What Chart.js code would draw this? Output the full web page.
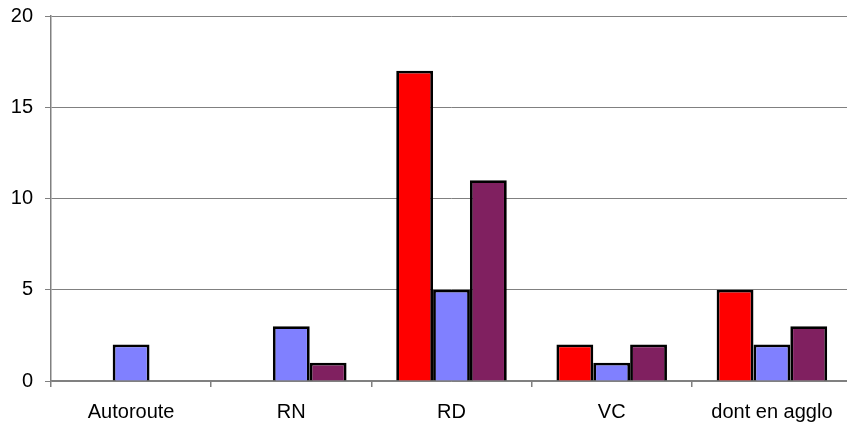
<!DOCTYPE html>
<html lang="fr">
<head>
  <meta charset="UTF-8" />
  <title>Graphique</title>
  <script src="https://cdn.jsdelivr.net/npm/chart.js"></script>
  <style>
    html, body {
      margin: 0;
      padding: 0;
      background: #fff;
      overflow: hidden;
    }
    #wrap {
      width: 852px;
      height: 428px;
    }
  </style>
</head>
<body>
  <div id="wrap"><canvas id="graphique"></canvas></div>

  <script>
    // donnees
    const categories = ["Autoroute", "RN", "RD", "VC", "dont en agglo"];
    const serieRouge = [0, 0, 17, 2, 5];
    const serieBleue = [2, 3, 5, 1, 2];
    const serieViolette = [0, 1, 11, 2, 3];
    const ticksY = [0, 5, 10, 15, 20];

    const police = { family: "'Liberation Sans', Arial, sans-serif", size: 20 };

    function serie(data, couleur) {
      return {
        data: data,
        backgroundColor: couleur,
        borderColor: '#000',
        borderWidth: 2.8,
        borderSkipped: 'bottom',
        categoryPercentage: 0.69,
        barPercentage: 1
      };
    }

    new Chart(document.getElementById("graphique"), {
      type: 'bar',
      data: {
        labels: categories,
        datasets: [
          serie(serieRouge, '#ff0000'),
          serie(serieBleue, '#8080ff'),
          serie(serieViolette, '#802060')
        ]
      },
      options: {
        responsive: true,
        maintainAspectRatio: false,
        animation: false,
        layout: { padding: { top: 16, right: 0, left: 0, bottom: 0 } },
        plugins: {
          legend: { display: false },
          tooltip: { enabled: false }
        },
        scales: {
          x: {
            offset: true,
            grid: {
              offset: true,
              drawOnChartArea: false,
              drawTicks: true,
              tickLength: 6,
              color: '#808080',
              lineWidth: 1.5
            },
            border: { color: '#808080', width: 1.5 },
            ticks: { color: '#000', font: police, padding: 13, maxRotation: 0 },
            afterFit: (axis) => { axis.height = 47; axis.paddingLeft = 0; axis.paddingRight = 0; }
          },
          y: {
            min: 0,
            max: 20,
            afterBuildTicks: (axis) => { axis.ticks = ticksY.map(v => ({ value: v })); },
            grid: {
              color: '#808080',
              lineWidth: 1,
              drawTicks: true,
              tickLength: 6
            },
            border: { color: '#808080', width: 1.5 },
            ticks: { color: '#000', font: police, padding: 12 },
            afterFit: (axis) => { axis.width = 51; axis.paddingTop = 0; axis.paddingBottom = 0; }
          }
        }
      }
    });
  </script>
</body>
</html>
